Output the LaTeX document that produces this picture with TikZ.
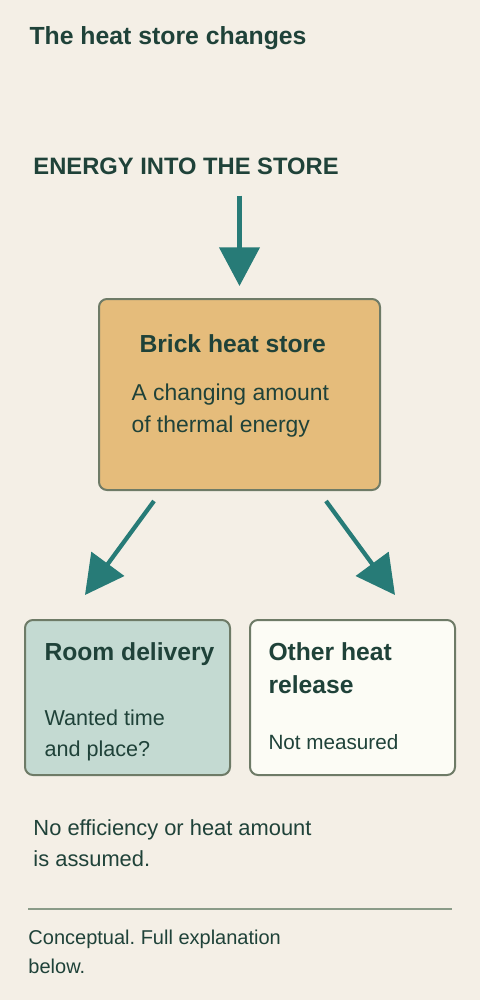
\documentclass[tikz,border=0pt]{standalone}
\usepackage{fontspec}
\setmainfont{Liberation Sans}
\usetikzlibrary{arrows.meta,calc}
\frenchspacing

\definecolor{paper}{HTML}{F4EFE6}
\definecolor{ink}{HTML}{1F4239}
\definecolor{flowcol}{HTML}{277B77}
\definecolor{brickfill}{HTML}{E5BC7B}
\definecolor{roomfill}{HTML}{C4DAD2}
\definecolor{otherfill}{HTML}{FCFCF5}
\definecolor{edgecol}{HTML}{6E7B67}
\definecolor{rulecol}{HTML}{8A9B88}

\newcommand{\fttitle}{\fontsize{18.6}{22}\selectfont\bfseries}
\newcommand{\ftcaps}{\fontsize{17.8}{22}\selectfont\bfseries}
\newcommand{\fthead}{\fontsize{18.5}{24.75}\selectfont\bfseries}
\newcommand{\ftstore}{\fontsize{17.2}{24}\selectfont}
\newcommand{\ftroom}{\fontsize{16.2}{23.25}\selectfont}
\newcommand{\ftother}{\fontsize{15.5}{23.25}\selectfont}
\newcommand{\ftnote}{\fontsize{16.4}{23.25}\selectfont}
\newcommand{\ftsmall}{\fontsize{15}{21.75}\selectfont}

\tikzset{every picture/.style={line width=0.75pt}}

\begin{document}
\begin{tikzpicture}[x=0.75pt,y=0.75pt,yscale=-1,xscale=1,
  txt/.style={anchor=base west,inner sep=0pt,text=ink,align=left},
  box/.style={draw=edgecol,line width=1.5pt,rounded corners=6pt,inner sep=0pt},
  flow/.style={draw=flowcol,line width=3.2pt,-{Triangle[length=29pt,width=30pt]}}]

%Background
\fill [paper] (0,0) rectangle (480,1000);

% Text Node
\node [txt,font=\fttitle] (title) at (29,44) {The heat store changes};
% Text Node
\node [txt,font=\ftcaps] (energy) at (33,174) {ENERGY INTO THE STORE};

%Shape: Boxes
\node [box,fill=brickfill,minimum width=210.75pt,minimum height=143.25pt] (store) at (239.5,394.5) {};
\node [box,fill=roomfill,minimum width=153.75pt,minimum height=116.25pt] (room) at (127.5,697.5) {};
\node [box,fill=otherfill,minimum width=153.75pt,minimum height=116.25pt] (other) at (352.5,697.5) {};

% Text Node (multi-line nodes sit on their last baseline)
\node [txt,font=\fthead] (storehead) at (139,352) {Brick heat store};
\node [txt,font=\ftstore] (storebody) at (131,432) {A changing amount\\of thermal energy};
% Text Node
\node [txt,font=\fthead] (roomhead) at (44,660) {Room delivery};
\node [txt,font=\ftroom] (roombody) at (44,756) {Wanted time\\and place?};
% Text Node
\node [txt,font=\fthead] (otherhead) at (268,693) {Other heat\\release};
\node [txt,font=\ftother] (otherbody) at (268,749) {Not measured};

%Straight Lines: flows
\draw [flow] (energy.south -| store.north) ++(0,21) -- ($(store.north)+(0,-12)$);
\draw [flow] ($(store.south west)+(56,10)$) -- ($(room.north west)+(61,-24)$);
\draw [flow] ($(store.south east)+(-55,10)$) -- ($(other.north east)+(-61,-24)$);

% Text Node
\node [txt,font=\ftnote] (note) at (33,866) {No efficiency or heat amount\\is assumed.};
%Straight Lines
\draw [rulecol,line width=1.2pt] (28,909) -- (452,909);
% Text Node
\node [txt,font=\ftsmall] (footer) at (28,973) {Conceptual. Full explanation\\below.};

\end{tikzpicture}
\end{document}
